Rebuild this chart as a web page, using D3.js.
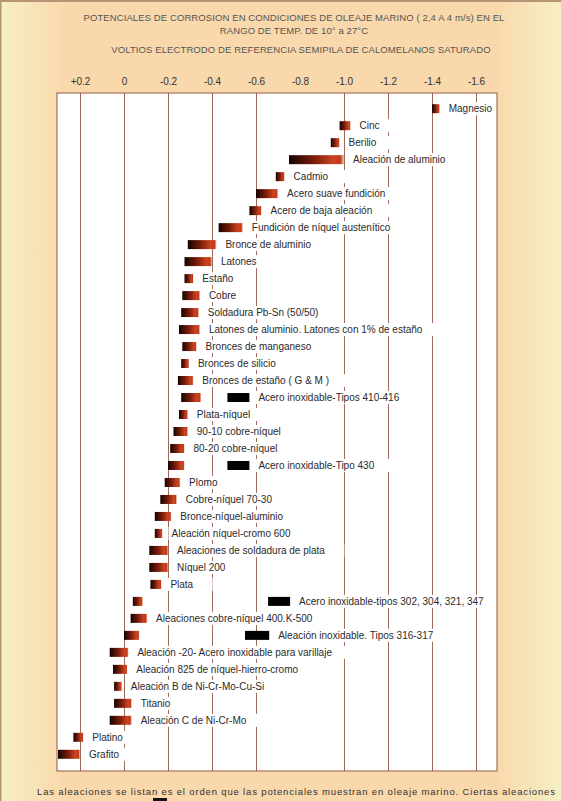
<html>
    <head>
        <title>Potenciales de corrosion</title>
        <script src="https://d3js.org/d3.v7.min.js"></script>
    </head>

    <style>
        body {
        margin: 0;
        }

        svg {
        display: block;
        }

        text {
        font-family: 'Liberation Sans', Arial, sans-serif;
        }

        text.title {
        font-size: 9.5px;
        fill: #555;
        letter-spacing: 0.1px;
        }

        text.label {
        font-size: 10px;
        fill: #2a2a2a;
        }

        .axis text {
        font-size: 10px;
        fill: #333;
        }

        .axis path, .axis line {
        stroke: none;
        }

        line.grid {
        stroke: #9c6b5a;
        stroke-width: 1;
        }

        text.note {
        font-size: 9.5px;
        fill: #333;
        }
    </style>

    <body>
        <svg width="561" height="801"></svg>

    <script>
        const metals = [
            'Magnesio', 'Cinc', 'Berilio', 'Aleación de aluminio', 'Cadmio',
            'Acero suave fundición', 'Acero de baja aleación', 'Fundición de níquel austenítico',
            'Bronce de aluminio', 'Latones', 'Estaño', 'Cobre', 'Soldadura Pb-Sn (50/50)',
            'Latones de aluminio. Latones con 1% de estaño', 'Bronces de manganeso',
            'Bronces de silicio', 'Bronces de estaño ( G & M )', 'Acero inoxidable-Tipos 410-416',
            'Plata-níquel', '90-10 cobre-níquel', '80-20 cobre-níquel', 'Acero inoxidable-Tipo 430',
            'Plomo', 'Cobre-níquel 70-30', 'Bronce-níquel-aluminio', 'Aleación níquel-cromo 600',
            'Aleaciones de soldadura de plata', 'Níquel 200', 'Plata',
            'Acero inoxidable-tipos 302, 304, 321, 347', 'Aleaciones cobre-níquel 400.K-500',
            'Aleación inoxidable. Tipos 316-317', 'Aleación -20- Acero inoxidable para varillaje',
            'Aleación 825 de níquel-hierro-cromo', 'Aleación B de Ni-Cr-Mo-Cu-Si', 'Titanio',
            'Aleación C de Ni-Cr-Mo', 'Platino', 'Grafito'
        ];

        // potential range (V), noble end and active end
        const nobleEnd = [
            -1.40, -0.98, -0.94, -0.75, -0.69, -0.60, -0.57, -0.43, -0.29, -0.275, -0.275,
            -0.265, -0.26, -0.25, -0.265, -0.26, -0.245, -0.26, -0.25, -0.225, -0.21, -0.20,
            -0.185, -0.165, -0.14, -0.14, -0.115, -0.115, -0.12, -0.04, -0.03, 0.0, 0.065,
            0.05, 0.045, 0.045, 0.065, 0.23, 0.30
        ];
        const activeEnd = [
            -1.435, -1.03, -0.98, -1.00, -0.73, -0.70, -0.625, -0.54, -0.42, -0.40, -0.315,
            -0.345, -0.34, -0.345, -0.33, -0.295, -0.315, -0.35, -0.29, -0.29, -0.275, -0.275,
            -0.255, -0.24, -0.215, -0.175, -0.20, -0.20, -0.17, -0.085, -0.105, -0.07, -0.02,
            -0.015, 0.01, -0.035, -0.035, 0.185, 0.20
        ];

        // stainless steels in crevices / low velocity water
        const crevice = [
            { name: 'Acero inoxidable-Tipos 410-416', from: -0.47, to: -0.57 },
            { name: 'Acero inoxidable-Tipo 430', from: -0.47, to: -0.57 },
            { name: 'Acero inoxidable-tipos 302, 304, 321, 347', from: -0.655, to: -0.755 },
            { name: 'Aleación inoxidable. Tipos 316-317', from: -0.55, to: -0.66 }
        ];

        const tickValues = [0.2, 0, -0.2, -0.4, -0.6, -0.8, -1.0, -1.2, -1.4, -1.6];
        const tickLabels = ['+0.2', '0', '-0.2', '-0.4', '-0.6', '-0.8', '-1.0', '-1.2', '-1.4', '-1.6'];
        const gridValues = [0.2, 0, -0.2, -0.4, -0.6, -1.0, -1.2, -1.4, -1.6];

        const titleLines = [
            'POTENCIALES DE CORROSION EN CONDICIONES DE OLEAJE MARINO ( 2,4 A 4 m/s) EN EL',
            'RANGO DE TEMP.  DE 10°  a  27°C',
            'VOLTIOS ELECTRODO DE REFERENCIA SEMIPILA DE CALOMELANOS SATURADO'
        ];

        const rows = metals.map((m, i) => ({ name: m, a: nobleEnd[i], b: activeEnd[i] }));

        const svg = d3.select('svg');
        const defs = svg.append('defs');

        const bg = defs.append('linearGradient').attr('id', 'bg')
        bg.append('stop').attr('offset', '0%').attr('stop-color', '#f6efc4')
        bg.append('stop').attr('offset', '12%').attr('stop-color', '#f9d8ab')
        bg.append('stop').attr('offset', '88%').attr('stop-color', '#f9d8ab')
        bg.append('stop').attr('offset', '100%').attr('stop-color', '#f6efc4')

        const barGrad = defs.append('linearGradient').attr('id', 'bar')
        barGrad.append('stop').attr('offset', '0%').attr('stop-color', '#140300')
        barGrad.append('stop').attr('offset', '45%').attr('stop-color', '#7a1c0a')
        barGrad.append('stop').attr('offset', '80%').attr('stop-color', '#cc4422')
        barGrad.append('stop').attr('offset', '93%').attr('stop-color', '#c03818')
        barGrad.append('stop').attr('offset', '100%').attr('stop-color', '#f2c8b0')

        svg.append('rect')
        .attr('width', 561)
        .attr('height', 801)
        .attr('fill', 'url(#bg)')

        svg.append('path')
        .attr('d', 'M0.5,801 V1 H561')
        .attr('fill', 'none')
        .attr('stroke', '#b59575')
        .attr('stroke-width', 2)

        const plot = { left: 57, right: 497, top: 93, bottom: 771 };

        const xScale = d3.scaleLinear()
        .domain([0.2, -1.6])
        .range([80, 476]);

        const yScale = d3.scalePoint()
        .domain(metals)
        .range([108.7, 754.3]);

        const barH = 9;

        svg.append('rect')
        .attr('x', plot.left)
        .attr('y', plot.top)
        .attr('width', plot.right - plot.left)
        .attr('height', plot.bottom - plot.top)
        .attr('fill', '#fff')
        .attr('stroke', '#8d5a48')

        svg.selectAll('line.grid')
        .data(gridValues)
        .enter()
        .append('line')
        .attr('class', 'grid')
        .attr('x1', (d) => Math.round(xScale(d)) + 0.5)
        .attr('x2', (d) => Math.round(xScale(d)) + 0.5)
        .attr('y1', plot.top)
        .attr('y2', plot.bottom)

        svg.selectAll('text.title')
        .data(titleLines)
        .enter()
        .append('text')
        .attr('class', 'title')
        .attr('x', (d, i) => i === 2 ? 301 : 294)
        .attr('y', (d, i) => [21, 34, 53][i])
        .attr('text-anchor', 'middle')
        .text((d) => d)

        svg.append('g')
        .attr('class', 'axis')
        .attr('transform', 'translate(0, 85)')
        .call(d3.axisTop(xScale)
            .tickValues(tickValues)
            .tickSize(0)
            .tickPadding(0)
            .tickFormat((d, i) => tickLabels[i]))

        const groups = svg.selectAll('g.row')
        .data(rows)
        .enter()
        .append('g')
        .attr('class', 'row')

        // label boxes hide the gridlines like the original text frames
        const labels = groups.append('text')
        .attr('class', 'label')
        .attr('x', (d) => {
            const c = crevice.find((s) => s.name === d.name);
            const end = c ? xScale(c.to) : xScale(d.b);
            return end + 9;
        })
        .attr('y', (d) => yScale(d.name))
        .attr('dy', '0.35em')
        .text((d) => d.name)

        labels.each(function () {
            const bb = this.getBBox();
            d3.select(this.parentNode)
            .insert('rect', 'text')
            .attr('x', bb.x - 3)
            .attr('y', bb.y - 1)
            .attr('width', Math.min(bb.width + 22, plot.right - bb.x + 2))
            .attr('height', bb.height + 2)
            .attr('fill', '#fff')
        })

        groups.append('rect')
        .attr('x', (d) => xScale(d.a))
        .attr('y', (d) => yScale(d.name) - barH / 2)
        .attr('width', (d) => xScale(d.b) - xScale(d.a))
        .attr('height', barH)
        .attr('fill', 'url(#bar)')

        svg.selectAll('rect.crevice')
        .data(crevice)
        .enter()
        .append('rect')
        .attr('class', 'crevice')
        .attr('x', (d) => xScale(d.from))
        .attr('y', (d) => yScale(d.name) - barH / 2)
        .attr('width', (d) => xScale(d.to) - xScale(d.from))
        .attr('height', barH)
        .attr('fill', '#000')

        svg.append('text')
        .attr('class', 'note')
        .attr('x', 37)
        .attr('y', 795)
        .attr('textLength', 518)
        .attr('lengthAdjust', 'spacing')
        .text('Las aleaciones se listan es el orden que las potenciales muestran en oleaje marino. Ciertas aleaciones')

        svg.append('rect')
        .attr('x', 153)
        .attr('y', 798)
        .attr('width', 14)
        .attr('height', 6)
        .attr('fill', '#111')
    </script>
    </body>
</html>
